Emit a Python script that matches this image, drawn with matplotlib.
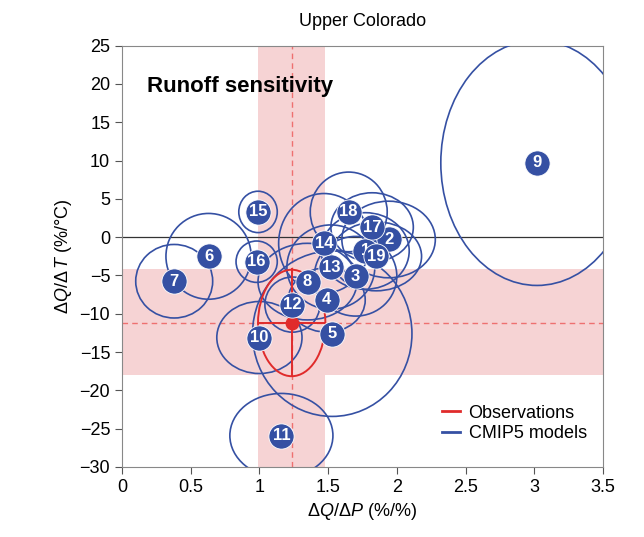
import matplotlib.pyplot as plt
import numpy as np
from matplotlib.patches import Ellipse
from matplotlib.lines import Line2D

plt.rcParams['font.family'] = ['Liberation Sans', 'DejaVu Sans']
plt.rcParams['mathtext.fontset'] = 'custom'
plt.rcParams['mathtext.rm'] = 'Liberation Sans'
plt.rcParams['mathtext.it'] = 'Liberation Sans:italic'

# CMIP5 models: id, dQ/dP, dQ/dT, half-width (x), half-height (y)
model_ids = [1, 2, 3, 4, 5, 6, 7, 8, 9, 10, 11, 12, 13, 14, 15, 16, 17, 18, 19]
model_x = [1.77, 1.94, 1.70, 1.49, 1.53, 0.63, 0.38, 1.35, 3.02, 1.00,
           1.16, 1.24, 1.52, 1.47, 0.99, 0.98, 1.82, 1.65, 1.85]
model_y = [-1.8, -0.3, -5.1, -8.2, -12.6, -2.5, -5.75, -5.8, 9.7, -13.1,
           -25.9, -8.8, -3.9, -0.8, 3.3, -3.2, 1.3, 3.3, -2.5]
model_ax = [0.32, 0.34, 0.30, 0.28, 0.58, 0.31, 0.28, 0.36, 0.70, 0.31,
            0.375, 0.20, 0.32, 0.33, 0.14, 0.15, 0.30, 0.28, 0.33]
model_ay = [5.0, 5.0, 5.2, 4.2, 10.8, 5.6, 4.8, 5.0, 16.0, 4.7,
            5.5, 3.6, 5.5, 6.5, 2.7, 2.7, 4.5, 5.2, 4.5]

# observations
obs_x, obs_y = 1.235, -11.2
obs_x_range = (0.99, 1.48)
obs_y_range = (-18.0, -4.1)

blue = '#3550a3'
red = '#e02b2b'
band = '#f6d3d4'

fig = plt.figure(figsize=(6.44, 5.37), dpi=100)
ax = fig.add_axes([0.1894, 0.1304, 0.7469, 0.7845])

ax.axvspan(*obs_x_range, color=band, lw=0, zorder=0)
ax.axhspan(*obs_y_range, color=band, lw=0, zorder=0)
ax.axvline(obs_x, color='#ee7070', ls=(0, (4, 3)), lw=1, zorder=1)
ax.axhline(obs_y, color='#ee7070', ls=(0, (4, 3)), lw=1, zorder=1)
ax.axhline(0, color='#333333', lw=0.9, zorder=2)

for x, y, a, b in zip(model_x, model_y, model_ax, model_ay):
    ax.add_patch(Ellipse((x, y), 2 * a, 2 * b, fill=False, ec=blue, lw=1.2, zorder=3))

# observation ellipse with cross
ax.add_patch(Ellipse((obs_x, obs_y), obs_x_range[1] - obs_x_range[0],
                     obs_y_range[1] - obs_y_range[0], fill=False, ec=red, lw=1.4, zorder=4))
ax.plot(obs_x_range, [obs_y, obs_y], color=red, lw=1.4, zorder=4)
ax.plot([obs_x, obs_x], obs_y_range, color=red, lw=1.4, zorder=4)
ax.plot(obs_x, obs_y, 'o', color=red, ms=9, zorder=5)

# numbered markers, later ones on top
for k, (i, x, y) in enumerate(zip(model_ids, model_x, model_y)):
    z = 6 + 0.1 * k
    ax.scatter([x], [y], s=330, color=blue, edgecolors='white', linewidths=0.6, zorder=z)
    ax.text(x, y, str(i), color='white', fontsize=12, fontweight='bold',
            ha='center', va='center', zorder=z + 0.05)

ax.set_xlim(0, 3.5)
ax.set_ylim(-30, 25)
ax.set_xticks(np.arange(0, 3.51, 0.5))
ax.set_xticklabels(['0', '0.5', '1', '1.5', '2', '2.5', '3', '3.5'])
ax.set_yticks(np.arange(-30, 26, 5))
ax.tick_params(labelsize=13, length=5, direction='out', color='#555555')
for s in ax.spines.values():
    s.set_color('#888888')

ax.set_xlabel(r'$\Delta Q/\Delta P$ (%/%)', fontsize=13)
ax.set_ylabel(r'$\Delta Q/\Delta\,T$ (%/°C)', fontsize=13)
ax.set_title('Upper Colorado', fontsize=13, pad=14)
ax.text(0.18, 19.7, 'Runoff sensitivity', fontsize=16, fontweight='bold', va='center')

handles = [Line2D([], [], color=red, lw=2), Line2D([], [], color=blue, lw=2)]
ax.legend(handles, ['Observations', 'CMIP5 models'], loc='lower right', frameon=False,
          fontsize=13, handlelength=1.0, handletextpad=0.5, labelspacing=0.2,
          bbox_to_anchor=(1.0, 0.02))

fig.savefig('out.png', dpi=100)
